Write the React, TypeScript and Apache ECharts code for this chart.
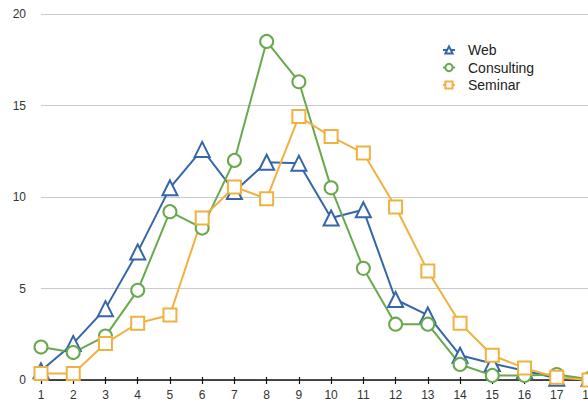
import React, { useEffect, useRef } from "react";
import * as echarts from "echarts";

const categories = ["1","2","3","4","5","6","7","8","9","10","11","12","13","14","15","16","17","18"];
const webValues = [0.5, 2.0, 3.9, 7.0, 10.5, 12.6, 10.3, 11.9, 11.85, 8.85, 9.3, 4.4, 3.55, 1.35, 0.9, 0.5, 0.1, 0.1];
const consultingValues = [1.8, 1.5, 2.4, 4.9, 9.2, 8.3, 12.0, 18.5, 16.3, 10.5, 6.1, 3.05, 3.05, 0.85, 0.25, 0.25, 0.3, 0.05];
const seminarValues = [0.35, 0.35, 2.0, 3.1, 3.55, 8.85, 10.55, 9.9, 14.4, 13.3, 12.4, 9.45, 5.95, 3.1, 1.35, 0.65, 0.15, 0.0];
const seriesNames = ["Web", "Consulting", "Seminar"];
const colors = ["#3566a8", "#69a84c", "#f0b140"];

export default function App() {
  const ref = useRef<HTMLDivElement>(null);
  useEffect(() => {
    if (!ref.current) return;
    const chart = echarts.init(ref.current, undefined, { renderer: "svg" });
    const font = "'Liberation Sans', Arial, Helvetica, sans-serif";
    const mk = (name: string, data: number[], color: string, symbol: string, size: number) => ({
      name,
      type: "line",
      data,
      symbol,
      symbolSize: size,
      showAllSymbol: true,
      xAxisIndex: 0,
      lineStyle: { color, width: 2 },
      itemStyle: { color: "#ffffff", borderColor: color, borderWidth: 2 },
      z: 3,
    });
    chart.setOption({
      animation: false,
      backgroundColor: "#ffffff",
      color: colors,
      textStyle: { fontFamily: font },
      grid: { left: 41, top: 14, width: 548, height: 366, containLabel: false, outerBoundsMode: "none" },
      legend: {
        orient: "vertical",
        left: 437,
        top: 38,
        itemWidth: 12,
        itemHeight: 9,
        itemGap: 3.5,
        data: seriesNames,
        textStyle: { fontFamily: font, fontSize: 14, color: "#222", padding: [0, 0, 0, 8] },
      },
      xAxis: [
        {
          type: "category",
          data: categories,
          boundaryGap: false,
          axisLine: { lineStyle: { color: "#111", width: 1.5 } },
          axisTick: { show: true, length: 4, lineStyle: { color: "#111", width: 1.2 } },
          axisLabel: { color: "#333", fontSize: 12, margin: 9, fontFamily: font, hideOverlap: false },
          splitLine: { show: false },
        },
        {
          type: "category",
          data: categories,
          boundaryGap: false,
          position: "bottom",
          axisLine: { show: false },
          axisTick: { show: true, inside: true, length: 3, lineStyle: { color: "#111", width: 1.2 } },
          axisLabel: { show: false },
          splitLine: { show: false },
        },
      ],
      yAxis: {
        type: "value",
        min: 0,
        max: 20,
        interval: 5,
        axisLine: { show: false },
        axisTick: { show: false },
        axisLabel: { color: "#333", fontSize: 12, margin: 15, fontFamily: font },
        splitLine: { lineStyle: { color: "#cacaca", width: 1 } },
      },
      series: [
        mk(seriesNames[0], webValues, colors[0], "triangle", 15),
        mk(seriesNames[1], consultingValues, colors[1], "circle", 13),
        mk(seriesNames[2], seminarValues, colors[2], "rect", 13),
      ],
    });
    return () => chart.dispose();
  }, []);
  return (
    <div
      ref={ref}
      style={{ position: "fixed", left: 0, top: 0, width: 588, height: 405, overflow: "hidden" }}
    />
  );
}
